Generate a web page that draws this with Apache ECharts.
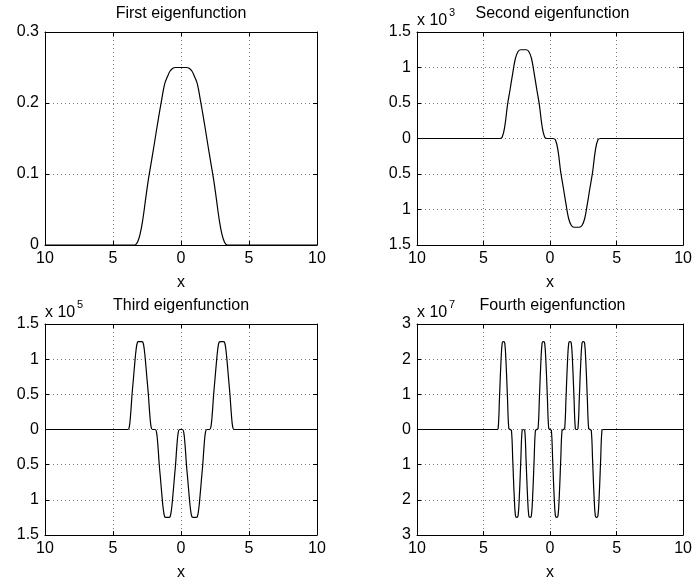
<!DOCTYPE html>
<html><head><meta charset="utf-8">
<script src="https://cdn.jsdelivr.net/npm/echarts@6/dist/echarts.min.js"></script>
<style>html,body{margin:0;padding:0;background:#fff}#c{width:695px;height:582px}</style>
</head><body><div id="c"></div><script>
// ---------- data ----------
const titles = ['First eigenfunction', 'Second eigenfunction', 'Third eigenfunction', 'Fourth eigenfunction'];
const exponents = ['', '3', '5', '7'];
const xAxisName = 'x';

const xTicks = [-10, -5, 0, 5, 10];
const xTickLabels = ['10', '5', '0', '5', '10'];
const yTicks1 = [0, 0.1, 0.2, 0.3];
const yTickLabels1 = ['0', '0.1', '0.2', '0.3'];
const yTicks23 = [-1.5, -1, -0.5, 0, 0.5, 1, 1.5];
const yTickLabels23 = ['1.5', '1', '0.5', '0', '0.5', '1', '1.5'];
const yTicks4 = [-3, -2, -1, 0, 1, 2, 3];
const yTickLabels4 = ['3', '2', '1', '0', '1', '2', '3'];

const xs1 = [-10,
 -3.4,-3.2,-3.0,-2.8,-2.6,-2.4,-2.2,-2.0,-1.8,-1.6,
 -1.4,-1.2,-1.0,-0.8,-0.6,-0.4,-0.2,0.0,0.2,0.4,
 0.6,0.8,1.0,1.2,1.4,1.6,1.8,2.0,2.2,2.4,
 2.6,2.8,3.0,3.2,3.4,10];
const ys1 = [0,
 0,0.004,0.016,0.037,0.065,0.092,0.115,0.138,0.162,0.185,
 0.207,0.227,0.237,0.245,0.249,0.25,0.25,0.25,0.25,0.25,
 0.249,0.245,0.237,0.227,0.207,0.185,0.162,0.138,0.115,0.092,
 0.065,0.037,0.016,0.004,0,0];

const xs2 = [-10,
 -4.0,-3.8,-3.6,-3.4,-3.2,-3.0,-2.8,-2.6,-2.4,-2.2,
 -2.0,-1.8,-1.6,-1.4,-1.2,-1.0,-0.8,-0.6,-0.4,-0.2,
 0.0,0.2,0.4,0.6,0.8,1.0,1.2,1.4,1.6,1.8,
 2.0,2.2,2.4,2.6,2.8,3.0,3.2,3.4,3.6,3.8,
 4.0,10];
const ys2 = [0,
 0,0,0.019,0.175,0.469,0.694,0.925,1.13,1.225,1.25,
 1.25,1.25,1.225,1.13,0.925,0.694,0.469,0.175,0.019,0,
 0,0,-0.019,-0.175,-0.469,-0.694,-0.925,-1.13,-1.225,-1.25,
 -1.25,-1.25,-1.225,-1.13,-0.925,-0.694,-0.469,-0.175,-0.019,0,
 0,0];

const xs34 = [-10,
 -4.0,-3.9,-3.8,-3.7,-3.6,-3.5,-3.4,-3.3,-3.2,-3.1,
 -3.0,-2.9,-2.8,-2.7,-2.6,-2.5,-2.4,-2.3,-2.2,-2.1,
 -2.0,-1.9,-1.8,-1.7,-1.6,-1.5,-1.4,-1.3,-1.2,-1.1,
 -1.0,-0.9,-0.8,-0.7,-0.6,-0.5,-0.4,-0.3,-0.2,-0.1,
 0.0,0.1,0.2,0.3,0.4,0.5,0.6,0.7,0.8,0.9,
 1.0,1.1,1.2,1.3,1.4,1.5,1.6,1.7,1.8,1.9,
 2.0,2.1,2.2,2.3,2.4,2.5,2.6,2.7,2.8,2.9,
 3.0,3.1,3.2,3.3,3.4,3.5,3.6,3.7,3.8,3.9,
 4.0,10];
const ys3 = [0,
 0,0,0.038,0.225,0.498,0.719,0.944,1.138,1.24,1.25,
 1.25,1.25,1.24,1.138,0.944,0.719,0.498,0.225,0.038,0,
 0,0,-0.038,-0.225,-0.498,-0.719,-0.944,-1.138,-1.24,-1.25,
 -1.25,-1.25,-1.24,-1.138,-0.944,-0.719,-0.498,-0.225,-0.038,0,
 0,0,-0.038,-0.225,-0.498,-0.719,-0.944,-1.138,-1.24,-1.25,
 -1.25,-1.25,-1.24,-1.138,-0.944,-0.719,-0.498,-0.225,-0.038,0,
 0,0,0.038,0.225,0.498,0.719,0.944,1.138,1.24,1.25,
 1.25,1.25,1.24,1.138,0.944,0.719,0.498,0.225,0.038,0,
 0,0];
const ys4 = [0,
 0,0.03,0.9,1.83,2.45,2.5,2.45,1.83,0.9,0.03,
 0,-0.03,-0.9,-1.83,-2.45,-2.5,-2.45,-1.83,-0.9,-0.03,
 0,-0.03,-0.9,-1.83,-2.45,-2.5,-2.45,-1.83,-0.9,-0.03,
 0,0.03,0.9,1.83,2.45,2.5,2.45,1.83,0.9,0.03,
 0,-0.03,-0.9,-1.83,-2.45,-2.5,-2.45,-1.83,-0.9,-0.03,
 0,0.03,0.9,1.83,2.45,2.5,2.45,1.83,0.9,0.03,
 0,0.03,0.9,1.83,2.45,2.5,2.45,1.83,0.9,0.03,
 0,-0.03,-0.9,-1.83,-2.45,-2.5,-2.45,-1.83,-0.9,-0.03,
 0,0];

// ---------- layout ----------
const FONT = '"Liberation Sans", Arial, Helvetica, sans-serif';
const FS = 16;
const grids = [
  {left: 45, top: 32, width: 272, height: 213},
  {left: 417, top: 32, width: 271, height: 213},
  {left: 45, top: 324, width: 272, height: 214},
  {left: 417, top: 324, width: 271, height: 214}
];
const panels = [
  {xs: xs1, ys: ys1, yMin: 0, yMax: 0.3, yInt: 0.1, yT: yTicks1, yL: yTickLabels1},
  {xs: xs2, ys: ys2, yMin: -1.5, yMax: 1.5, yInt: 0.5, yT: yTicks23, yL: yTickLabels23},
  {xs: xs34, ys: ys3, yMin: -1.5, yMax: 1.5, yInt: 0.5, yT: yTicks23, yL: yTickLabels23},
  {xs: xs34, ys: ys4, yMin: -3, yMax: 3, yInt: 1, yT: yTicks4, yL: yTickLabels4}
];

function labeler(ticks, labels) {
  return function (v) {
    for (let i = 0; i < ticks.length; i++) if (Math.abs(ticks[i] - v) < 1e-6) return labels[i];
    return '';
  };
}

const lineBlack = {color: '#000', width: 1};
const gridDots = {color: '#777', width: 1, type: [1, 3]};
const xAxes = [], yAxes = [], series = [], graphics = [];

panels.forEach((p, i) => {
  const g = grids[i];
  xAxes.push({
    gridIndex: i, type: 'value', min: -10, max: 10, interval: 5, position: 'bottom',
    axisLine: {show: true, onZero: false, lineStyle: lineBlack},
    axisTick: {show: true, inside: true, length: 4, lineStyle: lineBlack},
    axisLabel: {show: true, margin: 6, color: '#000', fontSize: FS, fontFamily: FONT,
      showMinLabel: true, showMaxLabel: true, formatter: labeler(xTicks, xTickLabels)},
    splitLine: {show: true, lineStyle: gridDots},
    name: xAxisName, nameLocation: 'middle', nameGap: 30,
    nameTextStyle: {color: '#000', fontSize: FS, fontFamily: FONT}
  });
  xAxes.push({
    gridIndex: i, type: 'value', min: -10, max: 10, interval: 5, position: 'top',
    axisLine: {show: true, onZero: false, lineStyle: lineBlack},
    axisTick: {show: true, inside: true, length: 4, lineStyle: lineBlack},
    axisLabel: {show: false}, splitLine: {show: false}
  });
  yAxes.push({
    gridIndex: i, type: 'value', min: p.yMin, max: p.yMax, interval: p.yInt, position: 'left',
    axisLine: {show: true, onZero: false, lineStyle: lineBlack},
    axisTick: {show: true, inside: true, length: 4, lineStyle: lineBlack},
    axisLabel: {show: true, margin: 6, color: '#000', fontSize: FS, fontFamily: FONT,
      showMinLabel: true, showMaxLabel: true, formatter: labeler(p.yT, p.yL)},
    splitLine: {show: true, lineStyle: gridDots}
  });
  yAxes.push({
    gridIndex: i, type: 'value', min: p.yMin, max: p.yMax, interval: p.yInt, position: 'right',
    axisLine: {show: true, onZero: false, lineStyle: lineBlack},
    axisTick: {show: true, inside: true, length: 4, lineStyle: lineBlack},
    axisLabel: {show: false}, splitLine: {show: false}
  });
  series.push({
    type: 'line', xAxisIndex: 2 * i, yAxisIndex: 2 * i,
    data: p.xs.map((x, k) => [x, p.ys[k]]),
    showSymbol: false, symbol: 'none', smooth: 0.4,
    lineStyle: {color: '#000', width: 1.2}, z: 5, animation: false
  });
  graphics.push({
    type: 'text', x: g.left + g.width / 2, y: g.top - 18,
    style: {text: titles[i], fill: '#000', font: FS + 'px ' + FONT,
      textAlign: 'center', textVerticalAlign: 'middle', align: 'center', verticalAlign: 'middle'}
  });
  if (exponents[i]) {
    graphics.push({
      type: 'text', x: g.left, y: g.top - 11,
      style: {text: 'x 10', fill: '#000', font: FS + 'px ' + FONT,
        textAlign: 'left', textVerticalAlign: 'middle', align: 'left', verticalAlign: 'middle'}
    });
    graphics.push({
      type: 'text', x: g.left + 32, y: g.top - 19,
      style: {text: exponents[i], fill: '#000', font: '11px ' + FONT,
        textAlign: 'left', textVerticalAlign: 'middle', align: 'left', verticalAlign: 'middle'}
    });
  }
});

const chart = echarts.init(document.getElementById('c'), null, {renderer: 'canvas'});
chart.setOption({
  animation: false,
  backgroundColor: '#fff',
  grid: grids.map(g => Object.assign({containLabel: false}, g)),
  xAxis: xAxes,
  yAxis: yAxes,
  series: series,
  graphic: graphics
});
</script></body></html>
